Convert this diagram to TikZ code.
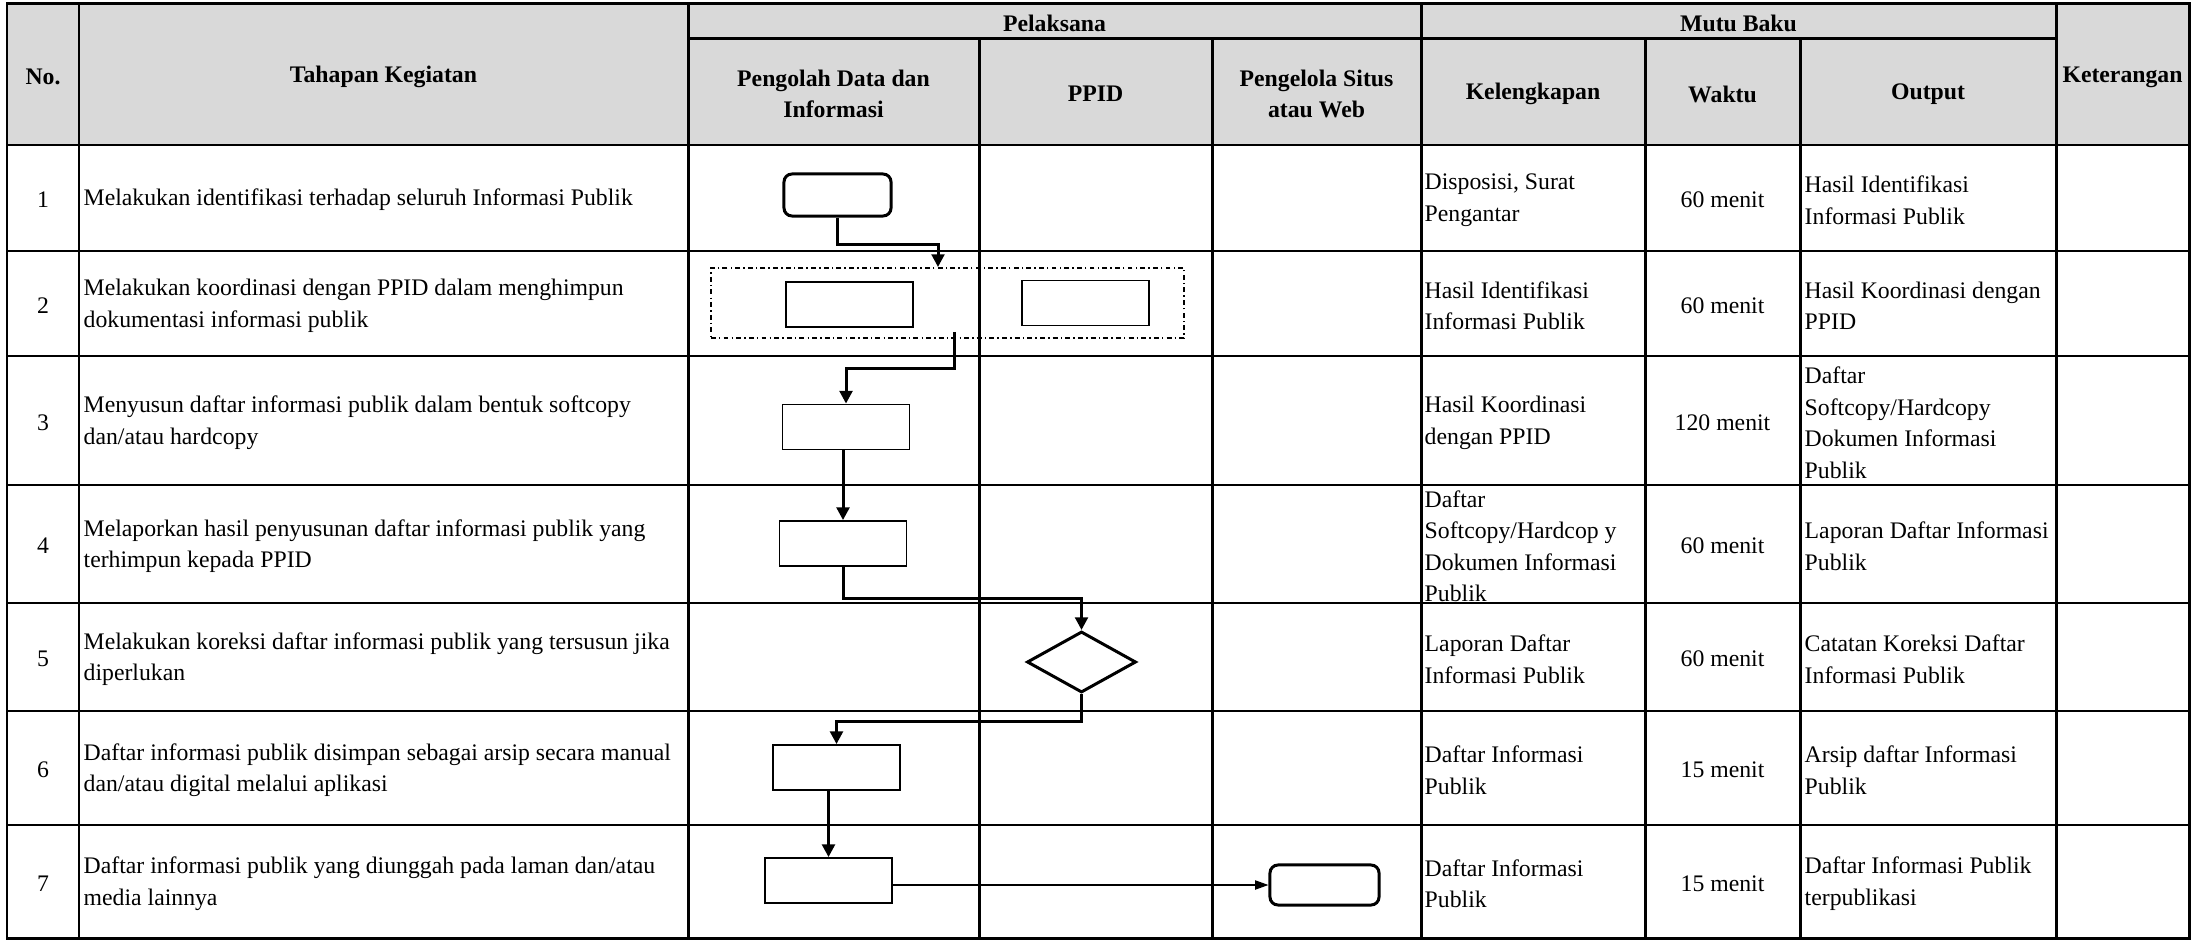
\documentclass[tikz,border=0pt]{standalone}
\usepackage{fontspec}
\setmainfont{Liberation Serif}
\usetikzlibrary{arrows.meta,shapes.geometric,calc}
\definecolor{hdrgray}{RGB}{217,217,217}

\begin{document}
\begin{tikzpicture}[x=0.01cm,y=-0.01cm,
		grid/.style={line width=0.85pt, line cap=rect},
		hdr/.style={font=\fontsize{6.75pt}{8.96pt}\selectfont\bfseries, align=center, inner sep=0, yshift=-0.6pt},
		txt/.style={font=\fontsize{6.75pt}{8.96pt}\selectfont, align=left, inner sep=0, yshift=-0.6pt},
		term/.style={draw, rounded corners=0.08cm, line width=0.85pt, inner sep=0, minimum height=0.42cm},
		proc/.style={draw, line width=0.5pt, inner sep=0, minimum width=1.27cm, minimum height=0.45cm},
		dec/.style={draw, diamond, line width=0.85pt, inner sep=0, minimum width=1.09cm, minimum height=0.61cm},
		grp/.style={draw, line width=0.55pt, dash pattern=on 1.4pt off 0.9pt on 0.4pt off 0.9pt},
		flow/.style={-{Triangle[length=3.6pt,width=3.6pt]}, line width=0.85pt},
		flowthin/.style={-{Triangle[length=3.8pt,width=2.6pt]}, line width=0.45pt}]
	\useasboundingbox (0,0) rectangle (2191,940);
	
	%header
	\fill[hdrgray] (7,4) rectangle (2189,145);
	\node[hdr] (hno) at (43,75){No.};
	\node[hdr] (htahap) at (383.5,75){Tahapan Kegiatan};
	\node[hdr] (hpel) at (1054.5,21.5){Pelaksana};
	\node[hdr] (hmutu) at (1738.5,21.5){Mutu Baku};
	\node[hdr] (hket) at (2122.5,75){Keterangan};
	\node[hdr] (holah) at (833.5,92){Pengolah Data dan\\Informasi};
	\node[hdr] (hppid) at (1095.5,92){PPID};
	\node[hdr] (hweb) at (1316.5,92){Pengelola Situs\\atau Web};
	\node[hdr] (hkel) at (1533,92){Kelengkapan};
	\node[hdr] (hwaktu) at (1722.5,92){Waktu};
	\node[hdr] (hout) at (1928,92){Output};
	
	%grid
	\foreach \y in {4, 145, 251, 356, 485, 603, 711, 825, 938}{
		\draw[grid] (7, \y)--(2189, \y);
	}
	\draw[grid] (688, 39)--(2056, 39);
	\foreach \x in {7, 79, 688, 1421, 2056, 2189}{
		\draw[grid] (\x, 4)--(\x, 938);
	}
	\foreach \x in {979, 1212, 1645, 1800}{
		\draw[grid] (\x, 39)--(\x, 938);
	}
	
	%numbers
	\foreach \i/\y in {1/198, 2/303.5, 3/420.5, 4/544, 5/657, 6/768, 7/881.5}{
		\node[txt] (no\i) at (43, \y){\i};
	}
	
	%tahapan kegiatan
	\node[txt, anchor=west] (tk1) at (83,198){Melakukan identifikasi terhadap seluruh Informasi Publik};
	\node[txt, anchor=west] (tk2) at (83,303.5){Melakukan koordinasi dengan PPID dalam menghimpun\\dokumentasi informasi publik};
	\node[txt, anchor=west] (tk3) at (83,420.5){Menyusun daftar informasi publik dalam bentuk softcopy\\dan/atau hardcopy};
	\node[txt, anchor=west] (tk4) at (83,544){Melaporkan hasil penyusunan daftar informasi publik yang\\terhimpun kepada PPID};
	\node[txt, anchor=west] (tk5) at (83,657){Melakukan koreksi daftar informasi publik yang tersusun jika\\diperlukan};
	\node[txt, anchor=west] (tk6) at (83,768){Daftar informasi publik disimpan sebagai arsip secara manual\\dan/atau digital melalui aplikasi};
	\node[txt, anchor=west] (tk7) at (83,881.5){Daftar informasi publik yang diunggah pada laman dan/atau\\media lainnya};
	
	%kelengkapan
	\node[txt, anchor=west] (kl1) at (1424,198){Disposisi, Surat\\Pengantar};
	\node[txt, anchor=west] (kl2) at (1424,303.5){Hasil Identifikasi\\Informasi Publik};
	\node[txt, anchor=west] (kl3) at (1424,420.5){Hasil Koordinasi\\dengan PPID};
	\node[txt, anchor=west] (kl4) at (1424,544){Daftar\\Softcopy/Hardcop y\\Dokumen Informasi\\Publik};
	\node[txt, anchor=west] (kl5) at (1424,657){Laporan Daftar\\Informasi Publik};
	\node[txt, anchor=west] (kl6) at (1424,768){Daftar Informasi\\Publik};
	\node[txt, anchor=west] (kl7) at (1424,881.5){Daftar Informasi\\Publik};
	
	%waktu
	\node[txt] (wk1) at (1722.5,198){60 menit};
	\node[txt] (wk2) at (1722.5,303.5){60 menit};
	\node[txt] (wk3) at (1722.5,420.5){120 menit};
	\node[txt] (wk4) at (1722.5,544){60 menit};
	\node[txt] (wk5) at (1722.5,657){60 menit};
	\node[txt] (wk6) at (1722.5,768){15 menit};
	\node[txt] (wk7) at (1722.5,881.5){15 menit};
	
	%output
	\node[txt, anchor=west] (op1) at (1804,198){Hasil Identifikasi\\Informasi Publik};
	\node[txt, anchor=west] (op2) at (1804,303.5){Hasil Koordinasi dengan\\PPID};
	\node[txt, anchor=west] (op3) at (1804,420.5){Daftar\\Softcopy/Hardcopy\\Dokumen Informasi\\Publik};
	\node[txt, anchor=west] (op4) at (1804,544){Laporan Daftar Informasi\\Publik};
	\node[txt, anchor=west] (op5) at (1804,657){Catatan Koreksi Daftar\\Informasi Publik};
	\node[txt, anchor=west] (op6) at (1804,768){Arsip daftar Informasi\\Publik};
	\node[txt, anchor=west] (op7) at (1804,881.5){Daftar Informasi Publik\\terpublikasi};
	
	%flow
	\node[term, minimum width=1.07cm] (t1) at (837.5,195){};
	\node[grp, minimum width=4.73cm, minimum height=0.70cm] (g2) at (947.5,303){};
	\node[proc] (r2a) at (849.5,304.5){};
	\node[proc] (r2b) at (1085.5,303){};
	\node[proc] (r3) at (846,427){};
	\node[proc] (r4) at (843,543.5){};
	\node[dec] (d5) at (1081.5,662){};
	\node[proc] (r6) at (836.5,767.5){};
	\node[proc] (r7) at (828.5,880.5){};
	\node[term, minimum width=1.09cm, minimum height=0.40cm] (t7) at (1324.5,885){};
	
	\draw[flow] (t1.south) -- ++(0,27) -| ($(g2.north)+(-9.5,0)$);
	\draw[flow] ($(g2.south)+(6.5,-7)$) -- ++(0,37) -| (r3.north);
	\draw[flow] (r4.north |- r3.south) -- (r4.north);
	\draw[flow] (r4.south) -- ++(0,32) -| (d5.north);
	\draw[flow] (d5.south) -- ++(0,27) -| (r6.north);
	\draw[flow] (r7.north |- r6.south) -- (r7.north);
	\draw[flowthin] (r7.east |- t7.west) -- (t7.west);
\end{tikzpicture}
\end{document}
